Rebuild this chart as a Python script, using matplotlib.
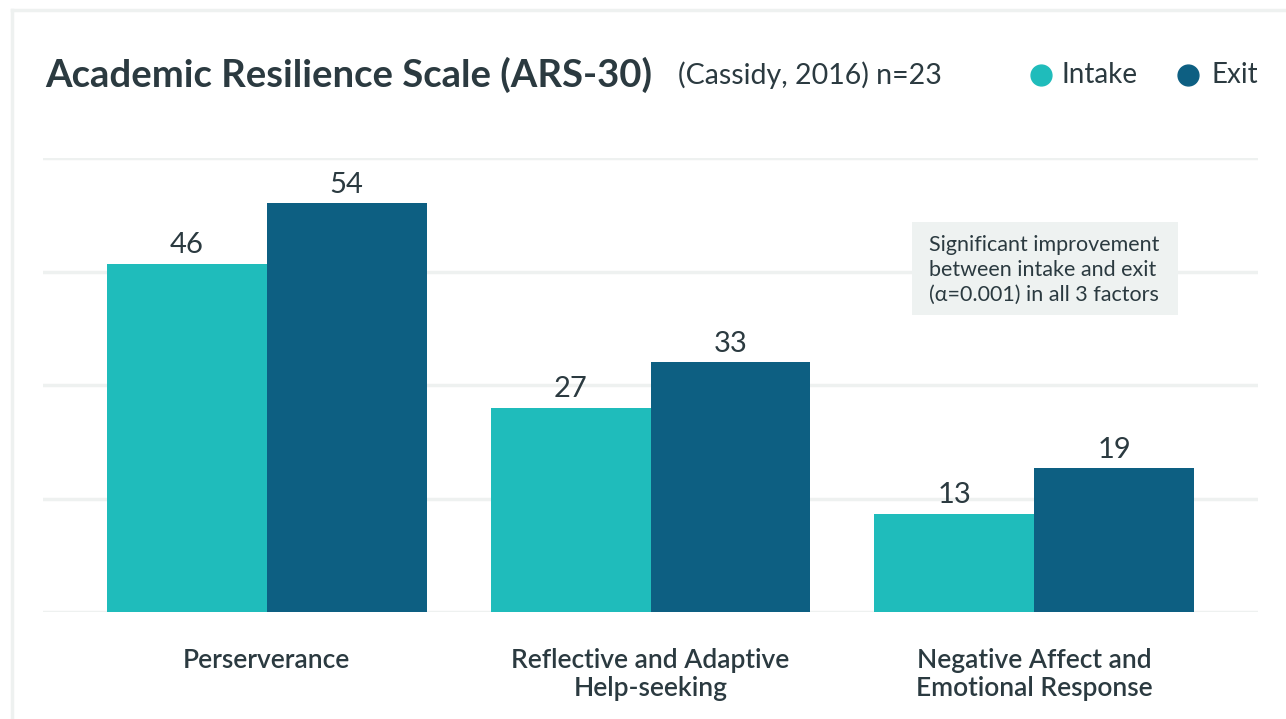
import matplotlib
matplotlib.use("Agg")
import matplotlib.pyplot as plt
import numpy as np
from matplotlib.patches import Rectangle

categories = ["Perserverance", "Reflective and Adaptive\nHelp-seeking", "Negative Affect and\nEmotional Response"]
intake = [46, 27, 13]
exit_ = [54, 33, 19]
series_names = ["Intake", "Exit"]
yticks = [0, 15, 30, 45, 60]

C_INTAKE = "#1fbcbb"
C_EXIT = "#0d5f82"
TXT = "#2b3a40"
GRID = "#eef1f0"

plt.rcParams['font.family'] = ['Lato', 'DejaVu Sans']

W, H = 1286, 719
fig = plt.figure(figsize=(W/100, H/100), dpi=100)
fig.patch.set_facecolor("white")

def fx(px):
    return px / W
def fy(py):
    return 1 - py / H

# card border
fig.add_artist(plt.Line2D([fx(12), fx(12)], [fy(10), 0], color=GRID, lw=2.5, transform=fig.transFigure))
fig.add_artist(plt.Line2D([fx(12), 1], [fy(10), fy(10)], color=GRID, lw=2.5, transform=fig.transFigure))

left, right, top, bottom = 43, 1258, 158, 612
ax = fig.add_axes([fx(left), fy(bottom), fx(right) - fx(left), fy(top) - fy(bottom)])
ax.set_ylim(0, 60)
ax.set_xlim(-0.5833, 2.5833)
for s in ax.spines.values():
    s.set_visible(False)
ax.set_yticks(yticks)
ax.set_yticklabels([])
ax.tick_params(length=0)
ax.grid(axis='y', color=GRID, lw=2.5)
ax.set_axisbelow(True)

x = np.arange(len(categories))
w = 160 / 384
b1 = ax.bar(x - w/2, intake, w, color=C_INTAKE, zorder=3)
b2 = ax.bar(x + w/2, exit_, w, color=C_EXIT, zorder=3)
for bars, vals in ((b1, intake), (b2, exit_)):
    for r, v in zip(bars, vals):
        ax.annotate(str(v), (r.get_x() + r.get_width()/2, v), xytext=(0, 4),
                    textcoords="offset points", ha="center", va="bottom",
                    fontsize=21, color=TXT)

ax.set_xticks(x)
ax.set_xticklabels(categories, fontsize=19, color=TXT, fontweight="semibold", linespacing=1.12)
ax.tick_params(axis='x', pad=26)

# title
fig.text(fx(45), fy(75), "Academic Resilience Scale (ARS-30)", fontsize=27.5, fontweight="bold",
         color=TXT, va="center", ha="left")
fig.text(fx(678), fy(75), "(Cassidy, 2016) n=23", fontsize=20.5, color=TXT, va="center", ha="left")

# legend
for cx, tx, name, col in ((1041, 1062, series_names[0], C_INTAKE), (1188, 1212, series_names[1], C_EXIT)):
    fig.add_artist(plt.Line2D([fx(cx)], [fy(75)], marker='o', markersize=15, color=col,
                              transform=fig.transFigure, linestyle='none'))
    fig.text(fx(tx), fy(75), name, fontsize=20, color=TXT, va="center", ha="left")

# annotation box
fig.add_artist(Rectangle((fx(912), fy(315)), fx(1178) - fx(912), fy(222) - fy(315),
                         transform=fig.transFigure, facecolor="#eef2f1", edgecolor="none", zorder=5))
fig.text(fx(929), fy(270), "Significant improvement\nbetween intake and exit\n(\u03b1=0.001) in all 3 factors",
         fontsize=15.5, color=TXT, va="center", ha="left", linespacing=1.3, zorder=6)

fig.savefig("out.png", dpi=100)
